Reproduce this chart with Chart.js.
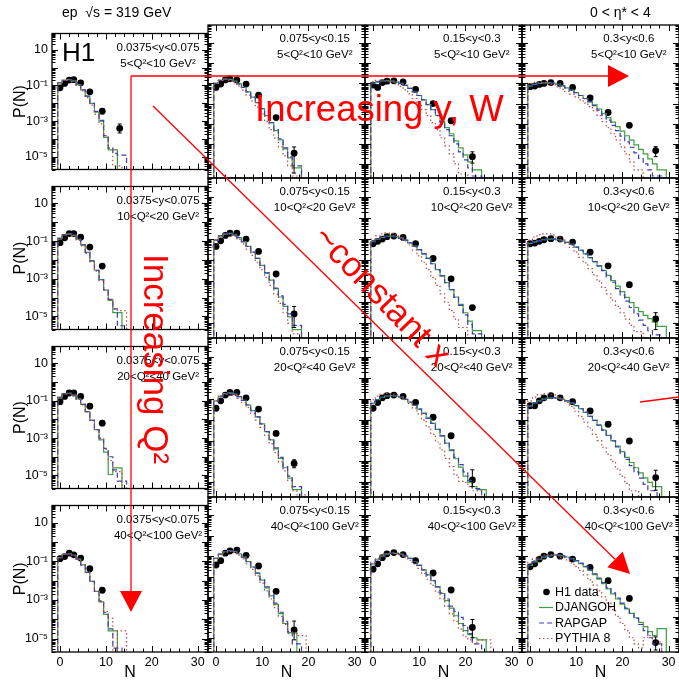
<!DOCTYPE html>
<html><head><meta charset="utf-8">
<script src="https://cdn.jsdelivr.net/npm/chart.js@4.4.0/dist/chart.umd.min.js"></script>
<style>
html,body{margin:0;padding:0;background:#fff;overflow:hidden;}
#wrap{position:relative;width:679px;height:683px;overflow:hidden;background:#fff;}
#wrap canvas{position:absolute;}
</style></head><body><div id="wrap"></div>
<script>
// ---------------- data ----------------
const X_TICKS = [0, 10, 20, 30];
const Y_TICKS = [1e-5, 1e-3, 1e-1, 10];
const Y_TICK_LABELS = ['10⁻⁵', '10⁻³', '10⁻¹', '10'];
const yBinLabels = ['0.0375<y<0.075', '0.075<y<0.15', '0.15<y<0.3', '0.3<y<0.6'];
const q2BinLabels = ['5<Q²<10 GeV²', '10<Q²<20 GeV²', '20<Q²<40 GeV²', '40<Q²<100 GeV²'];
const seriesNames = ['H1 data', 'DJANGOH', 'RAPGAP', 'PYTHIA 8'];
// H1 data: bin centres in N (shared by all panels)
const binCentersN = [0, 1, 2, 3, 4.5, 6.5, 9.2, 13, 16.9, 21.5, 27.2];

// H1 data P(N) per panel (q = Q2 bin, y = y bin)
const H1_q0_y0 = [0.074, 0.13, 0.2, 0.21, 0.14, 0.044, 3.6e-3, 4e-4];
const H1_q0_y1 = [0.063, 0.093, 0.15, 0.17, 0.15, 0.093, 0.026, 2e-3, 3.4e-5];
const H1_q0_y2 = [0.083, 0.063, 0.11, 0.13, 0.135, 0.12, 0.05, 0.01, 1.4e-3, 2.3e-5];
const H1_q0_y3 = [0.069, 0.074, 0.089, 0.1, 0.11, 0.1, 0.063, 0.019, 3.6e-3, 8.3e-4, 4.6e-5];
const H1_q1_y0 = [0.083, 0.15, 0.25, 0.25, 0.16, 0.048, 4.7e-3];
const H1_q1_y1 = [0.045, 0.083, 0.15, 0.19, 0.19, 0.1, 0.026, 2.2e-3, 2.8e-5];
const H1_q1_y2 = [0.06, 0.078, 0.1, 0.13, 0.14, 0.12, 0.06, 0.012, 1.3e-3, 5.6e-5];
const H1_q1_y3 = [0.06, 0.065, 0.078, 0.093, 0.105, 0.1, 0.072, 0.024, 5.4e-3, 6.8e-4, 1.6e-5];
const H1_q2_y0 = [0.089, 0.17, 0.26, 0.26, 0.17, 0.051, 6.3e-3];
const H1_q2_y1 = [0.035, 0.079, 0.15, 0.2, 0.2, 0.11, 0.032, 2.2e-3, 8.1e-5];
const H1_q2_y2 = [0.035, 0.066, 0.11, 0.14, 0.15, 0.13, 0.066, 0.013, 1.7e-3, 1.3e-5];
const H1_q2_y3 = [0.046, 0.046, 0.079, 0.11, 0.14, 0.11, 0.072, 0.026, 6e-3, 9.5e-4, 1.7e-5];
const H1_q3_y0 = [0.14, 0.18, 0.27, 0.22, 0.15, 0.042, 3.2e-3];
const H1_q3_y1 = [0.037, 0.06, 0.14, 0.18, 0.2, 0.11, 0.033, 1.9e-3, 2.4e-5];
const H1_q3_y2 = [0.023, 0.042, 0.085, 0.13, 0.15, 0.12, 0.06, 0.015, 2.2e-3, 3.2e-5];
const H1_q3_y3 = [0.03, 0.042, 0.072, 0.1, 0.12, 0.1, 0.072, 0.028, 6.3e-3, 8.5e-4, 5.8e-6];

// visible error band [low, high] of the last H1 point in each panel (null: hidden by marker)
const ERR_q0_y0 = [2.2e-4, 7e-4];
const ERR_q0_y1 = [3.5e-6, 7e-5];
const ERR_q0_y2 = [1.1e-5, 4e-5];
const ERR_q0_y3 = [2.3e-5, 7.2e-5];
const ERR_q1_y0 = null;
const ERR_q1_y1 = [6.3e-6, 6.3e-5];
const ERR_q1_y2 = null;
const ERR_q1_y3 = [5e-6, 3.2e-5];
const ERR_q2_y0 = null;
const ERR_q2_y1 = [5e-5, 1.2e-4];
const ERR_q2_y2 = [6.3e-6, 4e-5];
const ERR_q2_y3 = [4.2e-6, 3.8e-5];
const ERR_q3_y0 = null;
const ERR_q3_y1 = [7.9e-6, 6.6e-5];
const ERR_q3_y2 = [1e-5, 7.9e-5];
const ERR_q3_y3 = [2.5e-6, 1.1e-5];

// MC predictions, log10 P(N) for N = 0,1,2,... (unit bins)
const DJ_q0_y0 = [-1.1,-0.85,-0.72,-0.68,-0.75,-0.95,-1.25,-1.6,-2.0,-2.5,-3.0,-3.9,-4.6];
const RG_q0_y0 = [-1.1,-0.85,-0.72,-0.68,-0.75,-0.95,-1.25,-1.6,-2.0,-2.45,-2.95,-3.8,-4.5,-4.8,-4.9];
const PY_q0_y0 = [-1.1,-0.88,-0.72,-0.68,-0.78,-1.0,-1.3,-1.68,-2.1,-2.6,-3.15,-3.8,-4.5,-5.5];
const DJ_q0_y1 = [-1.2,-1.0,-0.85,-0.78,-0.8,-0.88,-1.02,-1.2,-1.42,-1.68,-1.95,-2.25,-2.6,-2.95,-3.35,-3.8,-4.25,-4.7,-5.2];
const RG_q0_y1 = [-1.2,-1.0,-0.85,-0.78,-0.8,-0.88,-1.02,-1.2,-1.42,-1.68,-1.95,-2.25,-2.6,-2.95,-3.3,-3.75,-4.2,-4.65,-5.1];
const PY_q0_y1 = [-1.2,-1.0,-0.85,-0.8,-0.85,-0.96,-1.12,-1.33,-1.58,-1.87,-2.18,-2.52,-2.9,-3.3,-3.72,-4.15,-4.6,-5.1,-5.6];
const DJ_q0_y2 = [-1.1,-1.0,-0.92,-0.88,-0.87,-0.88,-0.93,-1.0,-1.1,-1.25,-1.42,-1.6,-1.82,-2.05,-2.3,-2.58,-2.9,-3.2,-3.5,-3.85,-4.2,-4.55,-4.9,-5.3];
const RG_q0_y2 = [-1.1,-1.0,-0.92,-0.88,-0.87,-0.88,-0.93,-1.0,-1.1,-1.25,-1.42,-1.6,-1.82,-2.05,-2.3,-2.6,-2.95,-3.3,-3.6,-4.0,-4.4,-4.8,-5.2,-5.6];
const PY_q0_y2 = [-1.05,-0.92,-0.85,-0.83,-0.85,-0.92,-1.02,-1.15,-1.32,-1.52,-1.75,-2.0,-2.3,-2.6,-2.95,-3.3,-3.7,-4.1,-4.5,-5.0,-5.5];
const DJ_q0_y3 = [-1.2,-1.12,-1.05,-1.0,-0.97,-0.97,-0.99,-1.04,-1.12,-1.22,-1.33,-1.46,-1.6,-1.75,-1.9,-2.07,-2.27,-2.5,-2.7,-2.92,-3.15,-3.37,-3.6,-3.82,-4.05,-4.28,-4.5,-4.75,-5.0,-5.3];
const RG_q0_y3 = [-1.2,-1.12,-1.05,-1.0,-0.97,-0.97,-0.99,-1.04,-1.12,-1.22,-1.33,-1.46,-1.6,-1.75,-1.92,-2.1,-2.33,-2.57,-2.82,-3.08,-3.35,-3.62,-3.9,-4.17,-4.45,-4.73,-5.0,-5.3,-5.6];
const PY_q0_y3 = [-1.1,-1.0,-0.95,-0.93,-0.95,-1.0,-1.07,-1.17,-1.28,-1.4,-1.53,-1.67,-1.82,-1.98,-2.15,-2.35,-2.6,-2.9,-3.2,-3.5,-3.8,-4.15,-4.5,-4.9,-5.3];

const DJ_q1_y0 = [-1.1,-0.85,-0.65,-0.62,-0.7,-0.9,-1.2,-1.6,-2.05,-2.55,-3.05,-3.6,-4.15,-4.8];
const RG_q1_y0 = [-1.1,-0.85,-0.65,-0.62,-0.7,-0.9,-1.2,-1.6,-2.05,-2.55,-3.05,-3.6,-4.1,-4.6,-5.5];
const PY_q1_y0 = [-1.1,-0.87,-0.68,-0.64,-0.72,-0.93,-1.25,-1.65,-2.1,-2.6,-3.1,-3.6,-4.1,-4.6,-4.7];
const DJ_q1_y1 = [-1.3,-1.05,-0.85,-0.75,-0.73,-0.8,-0.93,-1.12,-1.35,-1.62,-1.92,-2.25,-2.6,-2.95,-3.35,-3.75,-4.2,-4.7,-5.3];
const RG_q1_y1 = [-1.3,-1.05,-0.85,-0.75,-0.73,-0.8,-0.93,-1.12,-1.35,-1.62,-1.92,-2.25,-2.6,-2.95,-3.33,-3.7,-4.1,-4.55,-5.1];
const PY_q1_y1 = [-1.3,-1.05,-0.86,-0.77,-0.77,-0.86,-1.02,-1.23,-1.48,-1.77,-2.1,-2.45,-2.82,-3.2,-3.62,-4.05,-4.5,-5.0,-5.5];
const DJ_q1_y2 = [-1.25,-1.12,-1.0,-0.92,-0.87,-0.86,-0.88,-0.95,-1.05,-1.18,-1.33,-1.5,-1.7,-1.92,-2.17,-2.45,-2.75,-3.07,-3.4,-3.75,-4.1,-4.5,-4.9,-5.35];
const RG_q1_y2 = [-1.25,-1.12,-1.0,-0.92,-0.87,-0.86,-0.88,-0.95,-1.05,-1.18,-1.33,-1.5,-1.7,-1.92,-2.17,-2.45,-2.75,-3.07,-3.4,-3.77,-4.15,-4.6,-5.05,-5.5];
const PY_q1_y2 = [-1.2,-1.0,-0.85,-0.75,-0.72,-0.73,-0.8,-0.92,-1.08,-1.28,-1.52,-1.8,-2.1,-2.45,-2.82,-3.2,-3.6,-4.0,-4.4,-4.8,-5.2];
const DJ_q1_y3 = [-1.3,-1.2,-1.13,-1.07,-1.03,-1.0,-1.0,-1.03,-1.08,-1.15,-1.25,-1.38,-1.53,-1.7,-1.88,-2.07,-2.27,-2.48,-2.72,-2.97,-3.23,-3.5,-3.77,-4.02,-4.25,-4.45,-4.62,-4.78,-4.95,-5.15];
const RG_q1_y3 = [-1.3,-1.2,-1.13,-1.07,-1.03,-1.0,-1.0,-1.03,-1.08,-1.15,-1.25,-1.38,-1.53,-1.7,-1.88,-2.07,-2.27,-2.5,-2.78,-3.05,-3.35,-3.65,-3.95,-4.25,-4.55,-4.85,-5.1,-5.35,-5.55];
const PY_q1_y3 = [-1.25,-1.05,-0.9,-0.8,-0.75,-0.75,-0.8,-0.9,-1.03,-1.2,-1.4,-1.62,-1.87,-2.13,-2.4,-2.7,-3.0,-3.3,-3.6,-3.9,-4.2,-4.5,-4.8,-5.1,-5.4];

const DJ_q2_y0 = [-1.1,-0.82,-0.62,-0.6,-0.7,-0.9,-1.2,-1.58,-2.05,-2.55,-3.1,-3.75,-4.95,-4.6];
const RG_q2_y0 = [-1.1,-0.82,-0.62,-0.6,-0.7,-0.9,-1.2,-1.58,-2.05,-2.55,-3.0,-3.55,-4.0,-4.7,-5.3];
const PY_q2_y0 = [-1.1,-0.84,-0.65,-0.62,-0.72,-0.93,-1.23,-1.6,-2.05,-2.55,-3.05,-3.6,-4.2,-4.8];
const DJ_q2_y1 = [-1.4,-1.1,-0.88,-0.76,-0.72,-0.78,-0.9,-1.08,-1.3,-1.57,-1.87,-2.2,-2.57,-2.97,-3.4,-3.85,-4.3,-4.8,-5.35];
const RG_q2_y1 = [-1.4,-1.1,-0.88,-0.76,-0.72,-0.78,-0.9,-1.08,-1.3,-1.57,-1.87,-2.2,-2.57,-2.95,-3.35,-3.8,-4.25,-4.7,-5.2];
const PY_q2_y1 = [-1.4,-1.1,-0.9,-0.78,-0.76,-0.84,-0.98,-1.18,-1.42,-1.7,-2.02,-2.37,-2.75,-3.15,-3.58,-4.02,-4.45,-4.9,-5.4,-5.6];
const DJ_q2_y2 = [-1.45,-1.22,-1.05,-0.94,-0.87,-0.85,-0.87,-0.93,-1.03,-1.16,-1.32,-1.5,-1.7,-1.93,-2.18,-2.47,-2.78,-3.12,-3.48,-3.87,-4.27,-4.7,-5.0,-5.2,-5.35];
const RG_q2_y2 = [-1.45,-1.22,-1.05,-0.94,-0.87,-0.85,-0.87,-0.93,-1.03,-1.16,-1.32,-1.5,-1.7,-1.93,-2.18,-2.47,-2.78,-3.12,-3.45,-3.8,-4.15,-4.5,-4.9,-5.3];
const PY_q2_y2 = [-1.3,-1.05,-0.88,-0.78,-0.74,-0.75,-0.8,-0.9,-1.04,-1.22,-1.45,-1.72,-2.02,-2.35,-2.7,-3.07,-3.45,-3.85,-4.25,-4.65,-4.95,-5.0,-5.2,-5.4];
const DJ_q2_y3 = [-1.5,-1.35,-1.2,-1.1,-1.02,-0.97,-0.95,-0.97,-1.02,-1.1,-1.2,-1.33,-1.48,-1.65,-1.84,-2.04,-2.26,-2.5,-2.75,-3.0,-3.27,-3.53,-3.8,-4.05,-4.3,-4.55,-4.78,-5.0,-5.2];
const RG_q2_y3 = [-1.5,-1.35,-1.2,-1.1,-1.02,-0.97,-0.95,-0.97,-1.02,-1.1,-1.2,-1.33,-1.48,-1.65,-1.84,-2.04,-2.26,-2.5,-2.75,-3.02,-3.3,-3.6,-3.9,-4.2,-4.5,-4.8,-5.1,-5.4];
const PY_q2_y3 = [-1.35,-1.1,-0.92,-0.82,-0.77,-0.77,-0.81,-0.9,-1.02,-1.18,-1.37,-1.6,-1.85,-2.12,-2.4,-2.7,-3.0,-3.32,-3.65,-4.0,-4.35,-4.7,-5.05,-5.4];

const DJ_q3_y0 = [-1.0,-0.8,-0.62,-0.6,-0.68,-0.88,-1.18,-1.57,-2.03,-2.55,-3.1,-3.75,-4.6];
const RG_q3_y0 = [-1.0,-0.8,-0.62,-0.6,-0.68,-0.88,-1.18,-1.57,-2.03,-2.55,-3.05,-3.65,-4.5,-5.5];
const PY_q3_y0 = [-1.0,-0.8,-0.63,-0.61,-0.7,-0.9,-1.2,-1.58,-2.05,-2.55,-3.08,-3.6,-3.95,-5.6,-4.6];
const DJ_q3_y1 = [-1.35,-1.1,-0.9,-0.78,-0.73,-0.77,-0.88,-1.05,-1.27,-1.53,-1.83,-2.17,-2.55,-2.95,-3.38,-3.82,-4.3,-4.75];
const RG_q3_y1 = [-1.35,-1.1,-0.9,-0.78,-0.73,-0.77,-0.88,-1.05,-1.27,-1.53,-1.83,-2.15,-2.5,-2.9,-3.3,-3.75,-4.2,-4.7,-5.3];
const PY_q3_y1 = [-1.35,-1.1,-0.92,-0.8,-0.77,-0.82,-0.95,-1.13,-1.37,-1.65,-1.97,-2.32,-2.7,-3.1,-3.52,-3.95,-4.35,-4.8,-4.8,-4.9];
const DJ_q3_y2 = [-1.6,-1.38,-1.15,-1.0,-0.9,-0.86,-0.86,-0.9,-0.98,-1.1,-1.26,-1.45,-1.67,-1.92,-2.2,-2.5,-2.83,-3.18,-3.55,-3.92,-4.3,-4.65,-4.85,-5.0,-5.1];
const RG_q3_y2 = [-1.6,-1.38,-1.15,-1.0,-0.9,-0.86,-0.86,-0.9,-0.98,-1.1,-1.26,-1.45,-1.67,-1.92,-2.2,-2.5,-2.8,-3.1,-3.45,-3.7,-4.0,-4.4,-4.8,-5.3];
const PY_q3_y2 = [-1.55,-1.3,-1.1,-0.96,-0.88,-0.85,-0.87,-0.94,-1.05,-1.2,-1.38,-1.6,-1.85,-2.13,-2.43,-2.76,-3.1,-3.46,-3.83,-4.2,-4.58,-4.95,-5.1,-5.3,-5.1,-5.1];
const DJ_q3_y3 = [-1.6,-1.45,-1.28,-1.15,-1.05,-0.98,-0.95,-0.95,-0.98,-1.04,-1.12,-1.23,-1.36,-1.52,-1.7,-1.9,-2.12,-2.35,-2.6,-2.85,-3.1,-3.35,-3.58,-3.8,-4.02,-4.25,-4.45,-4.7,-4.9,-4.55];
const RG_q3_y3 = [-1.6,-1.45,-1.28,-1.15,-1.05,-0.98,-0.95,-0.95,-0.98,-1.04,-1.12,-1.22,-1.34,-1.5,-1.67,-1.87,-2.08,-2.3,-2.55,-2.8,-3.05,-3.3,-3.55,-3.8,-4.05,-4.35,-4.65,-5.0,-5.3];
const PY_q3_y3 = [-1.5,-1.3,-1.13,-1.02,-0.95,-0.92,-0.93,-0.98,-1.07,-1.18,-1.33,-1.5,-1.7,-1.92,-2.16,-2.42,-2.7,-3.0,-3.3,-3.62,-3.95,-4.3,-4.65,-5.0,-5.3,-5.5,-5.0,-4.9,-5.2];

// ---------------- tables built from the arrays ----------------
const H1 = [[H1_q0_y0,H1_q0_y1,H1_q0_y2,H1_q0_y3],[H1_q1_y0,H1_q1_y1,H1_q1_y2,H1_q1_y3],[H1_q2_y0,H1_q2_y1,H1_q2_y2,H1_q2_y3],[H1_q3_y0,H1_q3_y1,H1_q3_y2,H1_q3_y3]];
const ERR = [[ERR_q0_y0,ERR_q0_y1,ERR_q0_y2,ERR_q0_y3],[ERR_q1_y0,ERR_q1_y1,ERR_q1_y2,ERR_q1_y3],[ERR_q2_y0,ERR_q2_y1,ERR_q2_y2,ERR_q2_y3],[ERR_q3_y0,ERR_q3_y1,ERR_q3_y2,ERR_q3_y3]];
const DJ = [[DJ_q0_y0,DJ_q0_y1,DJ_q0_y2,DJ_q0_y3],[DJ_q1_y0,DJ_q1_y1,DJ_q1_y2,DJ_q1_y3],[DJ_q2_y0,DJ_q2_y1,DJ_q2_y2,DJ_q2_y3],[DJ_q3_y0,DJ_q3_y1,DJ_q3_y2,DJ_q3_y3]];
const RG = [[RG_q0_y0,RG_q0_y1,RG_q0_y2,RG_q0_y3],[RG_q1_y0,RG_q1_y1,RG_q1_y2,RG_q1_y3],[RG_q2_y0,RG_q2_y1,RG_q2_y2,RG_q2_y3],[RG_q3_y0,RG_q3_y1,RG_q3_y2,RG_q3_y3]];
const PY = [[PY_q0_y0,PY_q0_y1,PY_q0_y2,PY_q0_y3],[PY_q1_y0,PY_q1_y1,PY_q1_y2,PY_q1_y3],[PY_q2_y0,PY_q2_y1,PY_q2_y2,PY_q2_y3],[PY_q3_y0,PY_q3_y1,PY_q3_y2,PY_q3_y3]];

// ---------------- layout / style ----------------
const FONT = '"Liberation Sans", Arial, Helvetica, sans-serif';
const X_MIN = -1.75, X_MAX = 32.25, Y_MIN = 2e-6, Y_MAX = 80;
const COL_EDGES = [52, 208, 365, 522, 679];
const ROW_EDGES = [25, 178, 338, 497, 652];
const PAGE_W = 679, PAGE_H = 683;
const C_DJ = '#3f9f3f', C_RG = '#3c3cc0', C_PY = '#b84a4a';
const wrap = document.getElementById('wrap');

function histPoints(logVals) {
  const pts = [{x: -0.5, y: 1e-9}];
  logVals.forEach((lv, n) => pts.push({x: n - 0.5, y: Math.pow(10, lv)}));
  const last = logVals.length;
  pts.push({x: last - 0.5, y: Math.pow(10, logVals[last - 1])});
  pts.push({x: last - 0.5, y: 1e-9});
  return pts;
}

function decoPlugin(r, c) {
  return {
    id: 'deco' + r + c,
    afterDatasetsDraw(chart) {
      const {ctx, scales: {x, y}} = chart;
      const e = ERR[r][c];
      const d = H1[r][c];
      if (e) {
        const px = x.getPixelForValue(binCentersN[d.length - 1]);
        const y1 = y.getPixelForValue(e[0]), y2 = y.getPixelForValue(e[1]);
        ctx.save();
        ctx.strokeStyle = '#000'; ctx.lineWidth = 1;
        ctx.beginPath();
        ctx.moveTo(px, y1); ctx.lineTo(px, y2);
        ctx.moveTo(px - 2, y1); ctx.lineTo(px + 2, y1);
        ctx.moveTo(px - 2, y2); ctx.lineTo(px + 2, y2);
        ctx.stroke();
        ctx.restore();
      }
    },
    afterDraw(chart) {
      const {ctx, chartArea: a, scales: {x, y}} = chart;
      ctx.save();
      ctx.strokeStyle = '#000';
      ctx.lineWidth = 1;
      ctx.beginPath();
      for (let k = -6; k <= 1; k++) {
        for (let m = 1; m <= 9; m++) {
          const v = m * Math.pow(10, k);
          if (v < Y_MIN || v > Y_MAX) continue;
          const py = Math.round(y.getPixelForValue(v)) + 0.5;
          const len = m === 1 ? 6 : 3.5;
          ctx.moveTo(a.left, py); ctx.lineTo(a.left + len, py);
          ctx.moveTo(a.right, py); ctx.lineTo(a.right - len, py);
        }
      }
      for (let v = 0; v <= X_MAX; v += 2) {
        const px = Math.round(x.getPixelForValue(v)) + 0.5;
        const len = v % 10 === 0 ? 6 : 3.5;
        ctx.moveTo(px, a.bottom); ctx.lineTo(px, a.bottom - len);
        ctx.moveTo(px, a.top); ctx.lineTo(px, a.top + len);
      }
      ctx.stroke();
      ctx.lineWidth = 1.3;
      ctx.strokeRect(a.left, a.top, a.right - a.left, a.bottom - a.top);
      // bin labels
      ctx.fillStyle = '#000';
      ctx.font = '11.5px ' + FONT;
      ctx.textAlign = 'center';
      ctx.textBaseline = 'middle';
      const cx = a.left + 0.68 * (a.right - a.left);
      ctx.fillText(yBinLabels[c], cx, a.top + 14);
      ctx.fillText(q2BinLabels[r], cx, a.top + 30);
      if (r === 0 && c === 0) {
        ctx.textAlign = 'left';
        ctx.textBaseline = 'alphabetic';
        ctx.font = '26px "Liberation Sans Narrow", ' + FONT;
        ctx.fillText('H1', a.left + 10, a.top + 27);
      }
      if (r === 3 && c === 3) {
        const ds = chart.data.datasets;
        const order = [3, 2, 1, 0];
        ctx.font = '12.5px ' + FONT;
        ctx.textAlign = 'left';
        ctx.textBaseline = 'middle';
        order.forEach((di, i) => {
          const d = ds[di];
          const ly = a.top + 95 + i * 15.5;
          if (di === 3) {
            ctx.fillStyle = '#000';
            ctx.beginPath(); ctx.arc(a.left + 24.5, ly, 3.3, 0, Math.PI * 2); ctx.fill();
          } else {
            ctx.strokeStyle = d.borderColor; ctx.lineWidth = 1.2;
            ctx.setLineDash(d.borderDash || []);
            ctx.beginPath(); ctx.moveTo(a.left + 17, ly); ctx.lineTo(a.left + 31, ly); ctx.stroke();
            ctx.setLineDash([]);
          }
          ctx.fillStyle = '#000';
          ctx.fillText(d.label, a.left + 33, ly + 0.5);
        });
      }
      ctx.restore();
    }
  };
}

function makePanel(r, c) {
  const L = COL_EDGES[c], R = COL_EDGES[c + 1], T = ROW_EDGES[r], B = ROW_EDGES[r + 1];
  const cl = c === 0 ? 0 : L - 3;
  const ct = T - 3;
  const cr = R + 3;
  const cb = r === 3 ? PAGE_H : B + 3;
  const cv = document.createElement('canvas');
  const w = cr - cl, h = cb - ct;
  cv.width = w; cv.height = h;
  cv.style.left = cl + 'px'; cv.style.top = ct + 'px';
  cv.style.width = w + 'px'; cv.style.height = h + 'px';
  wrap.appendChild(cv);
  const datasets = [
    {type: 'line', label: seriesNames[3], data: histPoints(PY[r][c]), stepped: 'after', borderColor: C_PY, borderWidth: 1.2, borderDash: [1.5, 2.5], pointRadius: 0, fill: false},
    {type: 'line', label: seriesNames[2], data: histPoints(RG[r][c]), stepped: 'after', borderColor: C_RG, borderWidth: 1.2, borderDash: [5, 3], pointRadius: 0, fill: false},
    {type: 'line', label: seriesNames[1], data: histPoints(DJ[r][c]), stepped: 'after', borderColor: C_DJ, borderWidth: 1.2, pointRadius: 0, fill: false},
    {type: 'scatter', label: seriesNames[0], data: H1[r][c].map((p, i) => ({x: binCentersN[i], y: p})), pointRadius: 3.4, pointBackgroundColor: '#000', pointBorderWidth: 0, showLine: false}
  ];
  new Chart(cv, {
    data: {datasets},
    options: {
      responsive: false, animation: false, devicePixelRatio: 1, events: [],
      layout: {autoPadding: false, padding: {left: c === 0 ? 0 : 3, right: 3, top: 3, bottom: r === 3 ? 0 : 3}},
      plugins: {legend: {display: false}, tooltip: {enabled: false}},
      scales: {
        x: {
          type: 'linear', min: X_MIN, max: X_MAX, display: r === 3,
          grid: {display: false, drawTicks: false}, border: {display: false},
          afterBuildTicks: ax => { ax.ticks = X_TICKS.map(v => ({value: v})); },
          ticks: {color: '#000', font: {family: FONT, size: 12.5}, padding: 3, maxRotation: 0, autoSkip: false, callback: v => String(v)},
          title: {display: r === 3, text: 'N', color: '#000', font: {family: FONT, size: 16}, padding: {top: 0, bottom: 1}},
          afterFit: ax => { if (r === 3) ax.height = PAGE_H - B; }
        },
        y: {
          type: 'logarithmic', min: Y_MIN, max: Y_MAX, display: c === 0,
          grid: {display: false, drawTicks: false}, border: {display: false},
          afterBuildTicks: ax => { ax.ticks = Y_TICKS.map(v => ({value: v})); },
          ticks: {color: '#000', font: {family: FONT, size: 12.5}, padding: 4, autoSkip: false, callback: (v, i) => Y_TICK_LABELS[i]},
          title: {display: c === 0, text: 'P(N)', color: '#000', font: {family: FONT, size: 16}, padding: {top: 11, bottom: 0}},
          afterFit: ax => { if (c === 0) ax.width = L; }
        }
      }
    },
    plugins: [decoPlugin(r, c)]
  });
}

for (let r = 0; r < 4; r++) for (let c = 0; c < 4; c++) makePanel(r, c);

// ---------------- header text and red annotations ----------------
const ov = document.createElement('canvas');
ov.width = PAGE_W; ov.height = PAGE_H;
ov.style.left = '0px'; ov.style.top = '0px'; ov.style.width = PAGE_W + 'px'; ov.style.height = PAGE_H + 'px';
wrap.appendChild(ov);
const g = ov.getContext('2d');
g.fillStyle = '#000';
g.font = '14px ' + FONT;
g.textBaseline = 'middle';
g.textAlign = 'left';
g.fillText('ep  √s = 319 GeV', 62, 13);
g.fillText('0 < η* < 4', 590, 13);

function arrow(x0, y0, x1, y1) {
  const dx = x1 - x0, dy = y1 - y0, len = Math.hypot(dx, dy);
  const ux = dx / len, uy = dy / len, hl = 21, hw = 11;
  const bx = x1 - ux * hl, by = y1 - uy * hl;
  g.beginPath(); g.moveTo(x0, y0); g.lineTo(bx, by); g.stroke();
  g.beginPath();
  g.moveTo(x1, y1);
  g.lineTo(bx - uy * hw, by + ux * hw);
  g.lineTo(bx + uy * hw, by - ux * hw);
  g.closePath(); g.fill();
}
g.strokeStyle = '#ff0000'; g.fillStyle = '#ff0000'; g.lineWidth = 1.3;
arrow(131, 76, 629, 76);
arrow(131, 76, 131, 612);
arrow(153, 106, 630, 574);
g.beginPath(); g.moveTo(640, 402); g.lineTo(679, 397); g.stroke();

g.font = '36.5px ' + FONT;
g.textBaseline = 'alphabetic';
g.textAlign = 'left';
g.fillText('Increasing y, W', 255, 121);
g.font = '35px ' + FONT;
g.save();
g.translate(144, 254); g.rotate(Math.PI / 2);
g.fillText('Increasing Q²', 0, 0);
g.restore();
g.save();
g.translate(381, 297); g.rotate(Math.atan2(118, 114));
g.textAlign = 'center'; g.textBaseline = 'middle';
g.fillText('~constant x', 0, 0);
g.restore();
</script>
</body></html>
